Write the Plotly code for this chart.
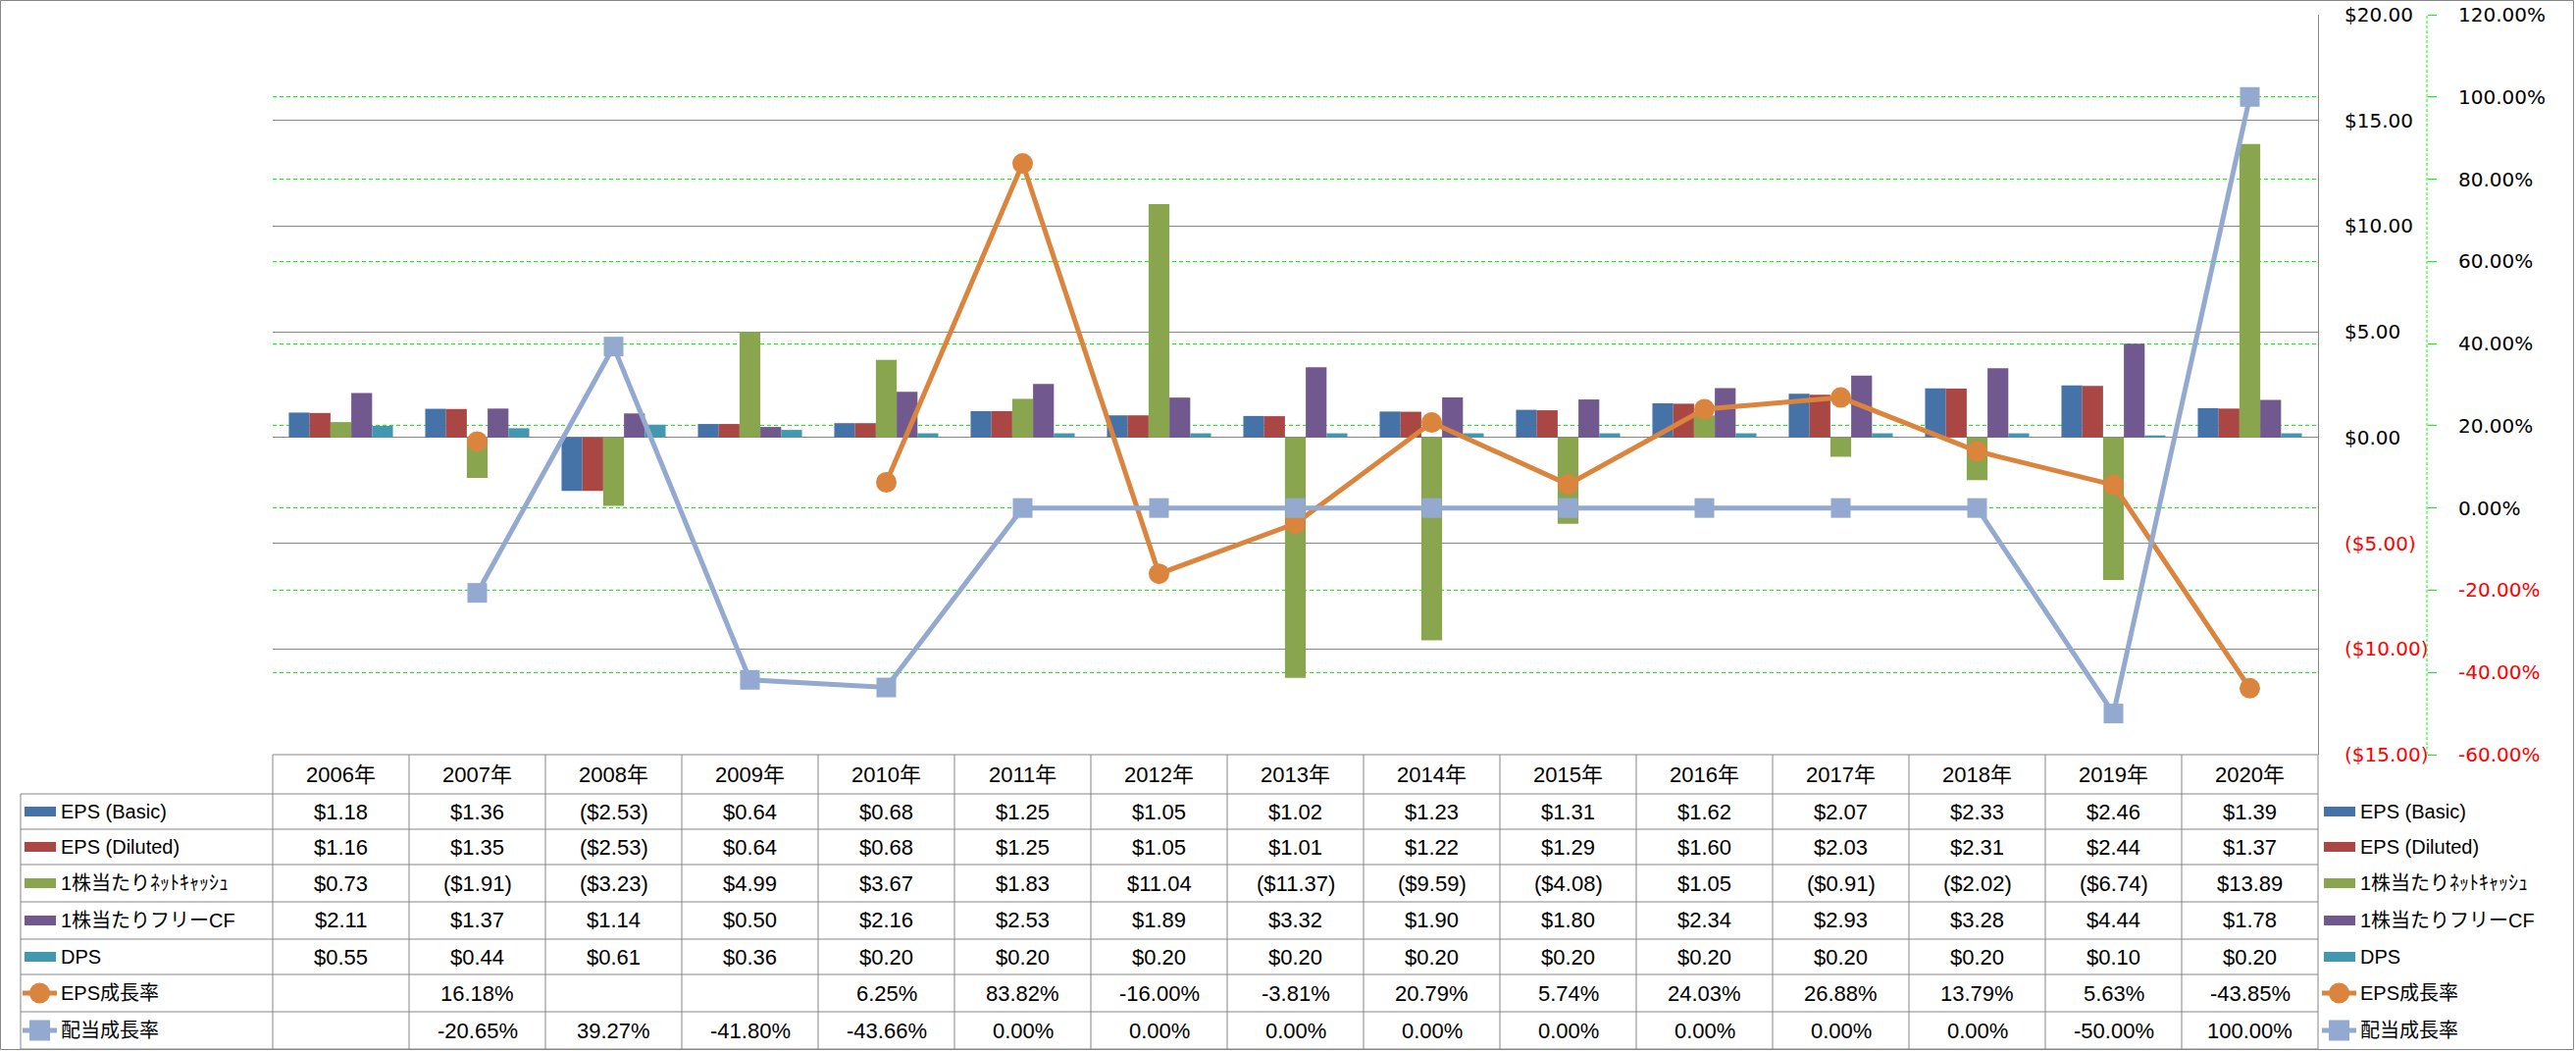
import plotly.graph_objects as go

years = ["2006年", "2007年", "2008年", "2009年", "2010年", "2011年", "2012年", "2013年",
         "2014年", "2015年", "2016年", "2017年", "2018年", "2019年", "2020年"]

eps_basic = [1.18, 1.36, -2.53, 0.64, 0.68, 1.25, 1.05, 1.02, 1.23, 1.31, 1.62, 2.07, 2.33, 2.46, 1.39]
eps_diluted = [1.16, 1.35, -2.53, 0.64, 0.68, 1.25, 1.05, 1.01, 1.22, 1.29, 1.60, 2.03, 2.31, 2.44, 1.37]
net_cash = [0.73, -1.91, -3.23, 4.99, 3.67, 1.83, 11.04, -11.37, -9.59, -4.08, 1.05, -0.91, -2.02, -6.74, 13.89]
free_cf = [2.11, 1.37, 1.14, 0.50, 2.16, 2.53, 1.89, 3.32, 1.90, 1.80, 2.34, 2.93, 3.28, 4.44, 1.78]
dps = [0.55, 0.44, 0.61, 0.36, 0.20, 0.20, 0.20, 0.20, 0.20, 0.20, 0.20, 0.20, 0.20, 0.10, 0.20]
eps_growth = [None, 16.18, None, None, 6.25, 83.82, -16.00, -3.81, 20.79, 5.74, 24.03, 26.88, 13.79, 5.63, -43.85]
div_growth = [None, -20.65, 39.27, -41.80, -43.66, 0.00, 0.00, 0.00, 0.00, 0.00, 0.00, 0.00, 0.00, -50.00, 100.00]

names = ["EPS (Basic)", "EPS (Diluted)", "1株当たりﾈｯﾄｷｬｯｼｭ", "1株当たりフリーCF", "DPS", "EPS成長率", "配当成長率"]

usd_ticks = [20, 15, 10, 5, 0, -5, -10, -15]
pct_ticks = [120, 100, 80, 60, 40, 20, 0, -20, -40, -60]

colors = ["#4572A7", "#AA4643", "#89A54E", "#71588F", "#4198AF", "#DB843D", "#93A9CF"]
GRID = "#868686"
GREEN = "#00FF00"
RED = "#FF0000"

W_IMG, H_IMG = 2626, 1071
L, R, T, B = 278, 2600, 15, 769
PW, PH = R - L, B - T


def pxx(x):
    return (x - L) / PW


def pyy(y):
    return (B - y) / PH


def fmt_usd(v):
    if v is None:
        return ""
    return f"(${-v:.2f})" if v < 0 else f"${v:.2f}"


def fmt_pct(v):
    if v is None:
        return ""
    return f"{v:.2f}%"


def usd_label(v):
    s = fmt_usd(v)
    return f'<span style="color:{RED}">{s}</span>' if v < 0 else s


def pct_label(v):
    s = fmt_pct(v)
    return f'<span style="color:{RED}">{s}</span>' if v < 0 else s


fig = go.Figure()
bar_series = [eps_basic, eps_diluted, net_cash, free_cf, dps]
for i, vals in enumerate(bar_series):
    fig.add_trace(go.Bar(x=years, y=vals, name=names[i], marker=dict(color=colors[i], line=dict(width=0)),
                         yaxis="y"))

fig.add_trace(go.Scatter(x=years, y=eps_growth, name=names[5], yaxis="y2", mode="lines+markers",
                         connectgaps=False, line=dict(color=colors[5], width=5),
                         marker=dict(symbol="circle", size=21, color=colors[5])))
fig.add_trace(go.Scatter(x=years, y=div_growth, name=names[6], yaxis="y2", mode="lines+markers",
                         connectgaps=False, line=dict(color=colors[6], width=5),
                         marker=dict(symbol="square", size=20, color=colors[6])))

x_end = pxx(2363)

axis_font = dict(family="DejaVu Sans", size=20, color="#000000")

fig.update_layout(
    width=W_IMG, height=H_IMG,
    margin=dict(l=L, r=W_IMG - R, t=T, b=H_IMG - B, autoexpand=False),
    paper_bgcolor="white", plot_bgcolor="white",
    showlegend=False,
    barmode="group", bargap=0.237, bargroupgap=0,
    xaxis=dict(domain=[0, x_end], type="category", categoryorder="array", categoryarray=years,
               range=[-0.5, 14.5], showticklabels=False, showgrid=False, zeroline=False,
               showline=False, ticks="", automargin=False),
    yaxis=dict(side="right", anchor="x", range=[-15, 20], tickvals=usd_ticks,
               ticktext=[usd_label(v) for v in usd_ticks], showgrid=True, gridcolor=GRID, gridwidth=1,
               zeroline=False, showline=True, linecolor=GRID, linewidth=1, ticks="",
               ticklabelstandoff=22, tickfont=axis_font, automargin=False),
    yaxis2=dict(overlaying="y", side="right", anchor="free", position=pxx(2474), range=[-60, 120],
                tickvals=pct_ticks, ticktext=[pct_label(v) for v in pct_ticks],
                showgrid=True, gridcolor=GREEN, gridwidth=1, griddash="4px,3px",
                zeroline=False, showline=False, ticks="outside", ticklen=9, tickcolor=GREEN, tickwidth=1,
                ticklabelstandoff=18, tickfont=axis_font, automargin=False),
)

shapes = []
# dashed green secondary axis line
shapes.append(dict(type="line", xref="paper", yref="paper", x0=pxx(2474), x1=pxx(2474), y0=0, y1=1,
                   line=dict(color=GREEN, width=1, dash="3px,2px")))

# outer chart border
shapes.append(dict(type="rect", xref="paper", yref="paper", x0=pxx(0.5), x1=pxx(2623.5),
                   y0=pyy(0.5), y1=pyy(1069.5), line=dict(color=GRID, width=1)))

# table geometry
col_w = (2363 - 278) / len(years)
row_bounds = [809, 845, 881, 919, 957, 993, 1031, 1069]
header_top, header_bot = 769, 809
tbl_left = 21

for k in range(len(years) + 1):
    xx = 278 + k * col_w
    shapes.append(dict(type="line", xref="paper", yref="paper", x0=pxx(xx), x1=pxx(xx),
                       y0=pyy(header_top), y1=pyy(1069), line=dict(color=GRID, width=1)))
shapes.append(dict(type="line", xref="paper", yref="paper", x0=pxx(tbl_left), x1=pxx(tbl_left),
                   y0=pyy(header_bot), y1=pyy(1069), line=dict(color=GRID, width=1)))
shapes.append(dict(type="line", xref="paper", yref="paper", x0=pxx(278), x1=pxx(2363),
                   y0=pyy(header_top), y1=pyy(header_top), line=dict(color=GRID, width=1)))
for yb in row_bounds:
    shapes.append(dict(type="line", xref="paper", yref="paper", x0=pxx(tbl_left), x1=pxx(2363),
                       y0=pyy(yb), y1=pyy(yb), line=dict(color=GRID, width=1)))

annotations = []
tbl_font = dict(family="Liberation Sans, Noto Sans CJK JP", size=22, color="#000000")
lbl_font = dict(family="Liberation Sans, Noto Sans CJK JP", size=20, color="#000000")

# header
for yr in years:
    annotations.append(dict(xref="x", yref="paper", x=yr, y=pyy((header_top + header_bot) / 2),
                            text=yr, showarrow=False, font=tbl_font, xanchor="center", yanchor="middle"))

row_values = [[fmt_usd(v) for v in s] for s in bar_series] + \
             [[fmt_pct(v) for v in eps_growth], [fmt_pct(v) for v in div_growth]]


def add_key(i, x0, yc):
    if i < 5:
        shapes.append(dict(type="rect", xref="paper", yref="paper", x0=pxx(x0 + 2), x1=pxx(x0 + 34),
                           y0=pyy(yc - 5), y1=pyy(yc + 5), fillcolor=colors[i], line=dict(width=0)))
    else:
        shapes.append(dict(type="line", xref="paper", yref="paper", x0=pxx(x0), x1=pxx(x0 + 35),
                           y0=pyy(yc), y1=pyy(yc), line=dict(color=colors[i], width=5)))
        cx = x0 + 17.5
        shapes.append(dict(type="circle" if i == 5 else "rect", xref="paper", yref="paper",
                           x0=pxx(cx - 10.5), x1=pxx(cx + 10.5), y0=pyy(yc - 10.5), y1=pyy(yc + 10.5),
                           fillcolor=colors[i], line=dict(width=0)))


for r in range(7):
    yc = (row_bounds[r] + row_bounds[r + 1]) / 2
    for c, yr in enumerate(years):
        txt = row_values[r][c]
        if txt:
            annotations.append(dict(xref="x", yref="paper", x=yr, y=pyy(yc), text=txt, showarrow=False,
                                    font=tbl_font, xanchor="center", yanchor="middle"))
    # left row label with key
    add_key(r, 23, yc)
    annotations.append(dict(xref="paper", yref="paper", x=pxx(61), y=pyy(yc), text=names[r],
                            showarrow=False, font=lbl_font, xanchor="left", yanchor="middle",
                            width=214, align="left", borderpad=0))
    # right legend
    add_key(r, 2367, yc)
    annotations.append(dict(xref="paper", yref="paper", x=pxx(2405), y=pyy(yc), text=names[r],
                            showarrow=False, font=lbl_font, xanchor="left", yanchor="middle",
                            align="left", borderpad=0))

fig.update_layout(shapes=shapes, annotations=annotations)

fig.write_html("out.html")
